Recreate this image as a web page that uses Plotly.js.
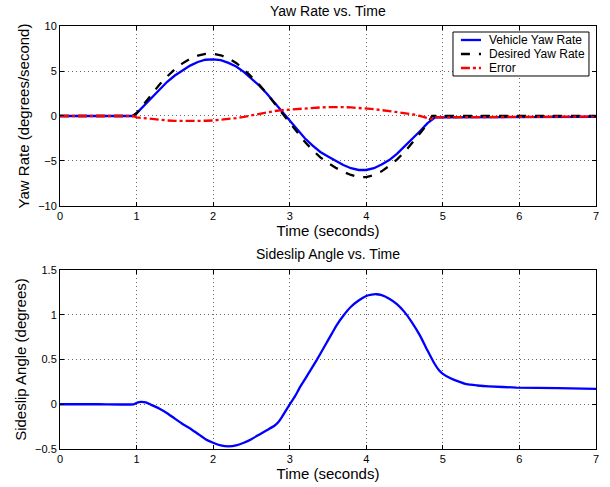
<!DOCTYPE html>
<html><head><meta charset="utf-8">
<script src="https://cdn.plot.ly/plotly-3.0.1.min.js"></script>
<style>html,body{margin:0;padding:0;background:#fff}</style>
</head><body><div id="chart" style="width:610px;height:487px"></div>
<script>
// Top subplot data
var tYaw = [0, 0.5, 0.95, 1.0, 1.1, 1.2, 1.3, 1.4, 1.5, 1.6, 1.7, 1.8, 1.9, 2.0, 2.1, 2.2, 2.3, 2.4, 2.5, 2.6, 2.7, 2.8, 2.9, 3.0, 3.1, 3.2, 3.3, 3.4, 3.5, 3.6, 3.7, 3.8, 3.9, 4.0, 4.1, 4.2, 4.3, 4.4, 4.5, 4.6, 4.7, 4.8, 4.86, 4.9, 5.0, 5.5, 6.0, 6.5, 7.0];
var desiredYaw = [0, 0, 0, 0.3, 1.4, 2.5, 3.5, 4.4, 5.2, 5.85, 6.35, 6.7, 6.9, 6.9, 6.75, 6.4, 5.9, 5.2, 4.4, 3.5, 2.5, 1.4, 0.3, -0.8, -1.9, -2.9, -3.8, -4.6, -5.2, -5.75, -6.2, -6.55, -6.8, -6.8, -6.55, -6.15, -5.55, -4.85, -4.0, -3.0, -1.95, -0.85, 0, 0, 0, 0, 0, 0, 0];
var vehicleYaw = [0, 0, 0, 0.3, 1.2, 2.1, 3.0, 3.8, 4.5, 5.1, 5.6, 6.0, 6.25, 6.3, 6.2, 5.9, 5.5, 4.9, 4.2, 3.4, 2.5, 1.5, 0.4, -0.6, -1.6, -2.5, -3.3, -4.0, -4.5, -5.0, -5.45, -5.8, -6.0, -6.0, -5.8, -5.4, -4.9, -4.2, -3.4, -2.6, -1.7, -0.8, -0.4, -0.15, -0.15, -0.13, -0.12, -0.1, -0.1];
var errorYaw = [0, 0, 0, -0.15, -0.25, -0.35, -0.45, -0.5, -0.55, -0.56, -0.56, -0.55, -0.53, -0.5, -0.43, -0.35, -0.23, -0.1, 0.07, 0.25, 0.42, 0.55, 0.65, 0.72, 0.79, 0.85, 0.9, 0.95, 0.98, 1.0, 0.99, 0.95, 0.9, 0.85, 0.76, 0.65, 0.55, 0.45, 0.33, 0.2, 0.0, -0.25, -0.35, -0.15, -0.15, -0.12, -0.1, -0.08, -0.05];

// Bottom subplot data
var tSlip = [0, 0.5, 0.96, 1.0, 1.06, 1.12, 1.2, 1.3, 1.4, 1.5, 1.6, 1.7, 1.8, 1.9, 2.0, 2.1, 2.2, 2.3, 2.4, 2.5, 2.6, 2.7, 2.8, 2.85, 2.9, 2.95, 3.0, 3.07, 3.14, 3.25, 3.35, 3.45, 3.55, 3.61, 3.7, 3.8, 3.9, 4.0, 4.07, 4.13, 4.2, 4.3, 4.4, 4.5, 4.6, 4.7, 4.8, 4.88, 4.95, 5.0, 5.1, 5.2, 5.31, 5.45, 5.6, 5.96, 6.5, 7.0];
var sideslip = [0, 0, 0, 0.015, 0.026, 0.02, -0.01, -0.05, -0.1, -0.16, -0.22, -0.27, -0.33, -0.39, -0.43, -0.46, -0.47, -0.46, -0.43, -0.39, -0.34, -0.29, -0.24, -0.2, -0.14, -0.07, 0, 0.09, 0.2, 0.35, 0.49, 0.64, 0.79, 0.88, 0.99, 1.09, 1.16, 1.21, 1.225, 1.23, 1.22, 1.18, 1.12, 1.03, 0.91, 0.77, 0.6, 0.47, 0.38, 0.34, 0.29, 0.255, 0.224, 0.21, 0.2, 0.187, 0.18, 0.172];

var xTicks = [0, 1, 2, 3, 4, 5, 6, 7];
var yawTicks = [-10, -5, 0, 5, 10];
var slipTicks = [-0.5, 0, 0.5, 1, 1.5];
var legendNames = ['Vehicle Yaw Rate', 'Desired Yaw Rate', 'Error'];
var legendColors = ['#0000ff', '#000000', '#ff0000'];
var legendDash = ['solid', 'dash', 'dashdot'];

var FONT = 'Liberation Sans, Arial, sans-serif';
var LW = 2.3;

var traces = [
  {x: tYaw, y: vehicleYaw, name: legendNames[0], mode: 'lines', line: {color: legendColors[0], width: LW}, xaxis: 'x', yaxis: 'y'},
  {x: tYaw, y: desiredYaw, name: legendNames[1], mode: 'lines', line: {color: legendColors[1], width: LW, dash: 'dash'}, xaxis: 'x', yaxis: 'y'},
  {x: tYaw, y: errorYaw, name: legendNames[2], mode: 'lines', line: {color: legendColors[2], width: LW, dash: 'dashdot'}, xaxis: 'x', yaxis: 'y'},
  {x: tSlip, y: sideslip, name: 'Sideslip', mode: 'lines', line: {color: '#0000ff', width: LW, shape: 'spline', smoothing: 0.5}, xaxis: 'x2', yaxis: 'y2'}
];

function xax(anchor) {
  return {range: [0, 7], tickvals: xTicks, ticktext: xTicks.map(String), ticks: 'inside', ticklen: 4, tickcolor: '#000',
    showline: true, linecolor: '#000', linewidth: 1, mirror: 'ticks', zeroline: false,
    showgrid: true, gridcolor: '#666', griddash: '1px,3px', gridwidth: 1, anchor: anchor,
    tickfont: {family: FONT, size: 11, color: '#000'},
    title: {text: 'Time (seconds)', font: {family: FONT, size: 15, color: '#000'}, standoff: 1}};
}
function yax(anchor, domain, range, ticks, title) {
  return {range: range, tickvals: ticks, ticktext: ticks.map(function(v){return v<0 ? '\u2212' + Math.abs(v) : String(v);}),
    ticks: 'inside', ticklen: 4, tickcolor: '#000', domain: domain, anchor: anchor,
    showline: true, linecolor: '#000', linewidth: 1, mirror: 'ticks', zeroline: false,
    showgrid: true, gridcolor: '#666', griddash: '1px,3px', gridwidth: 1,
    tickfont: {family: FONT, size: 11, color: '#000'},
    title: {text: title, font: {family: FONT, size: 15, color: '#000'}, standoff: 4}};
}

// Custom legend (paper coords of top plot area)
var lgX0 = 0.7332, lgX1 = 0.9869, lgY0 = 0.8818, lgY1 = 0.9858;
var rowY = [0.9669, 0.9338, 0.9007];
var shapes = [{type: 'rect', xref: 'paper', yref: 'paper', x0: lgX0, x1: lgX1, y0: lgY0, y1: lgY1, line: {color: '#000', width: 1}, fillcolor: '#fff', layer: 'above'}];
var annotations = [
  {text: 'Yaw Rate vs. Time', xref: 'paper', yref: 'paper', x: 0.5, y: 1, yshift: 15, showarrow: false, xanchor: 'center', yanchor: 'middle', font: {family: FONT, size: 14, color: '#000'}},
  {text: 'Sideslip Angle vs. Time', xref: 'paper', yref: 'paper', x: 0.5, y: 0.423, yshift: 16, showarrow: false, xanchor: 'center', yanchor: 'middle', font: {family: FONT, size: 14, color: '#000'}}
];
for (var i = 0; i < legendNames.length; i++) {
  shapes.push({type: 'line', xref: 'paper', yref: 'paper', x0: 0.748, x1: 0.7854, y0: rowY[i], y1: rowY[i], line: {color: legendColors[i], width: LW, dash: legendDash[i]}, layer: 'above'});
  annotations.push({text: legendNames[i], xref: 'paper', yref: 'paper', x: 0.7966, y: rowY[i], showarrow: false, xanchor: 'left', yanchor: 'middle', font: {family: FONT, size: 12, color: '#000'}});
}

var layout = {
  width: 610, height: 487,
  margin: {l: 60, r: 14, t: 26, b: 38},
  paper_bgcolor: '#fff', plot_bgcolor: '#fff',
  showlegend: false,
  xaxis: xax('y'),
  yaxis: yax('x', [0.5745, 1], [-10, 10], yawTicks, 'Yaw Rate (degrees/second)'),
  xaxis2: xax('y2'),
  yaxis2: yax('x2', [0, 0.423], [-0.5, 1.5], slipTicks, 'Sideslip Angle (degrees)'),
  shapes: shapes,
  annotations: annotations
};

Plotly.newPlot('chart', traces, layout, {displayModeBar: false, staticPlot: true});
</script></body></html>
